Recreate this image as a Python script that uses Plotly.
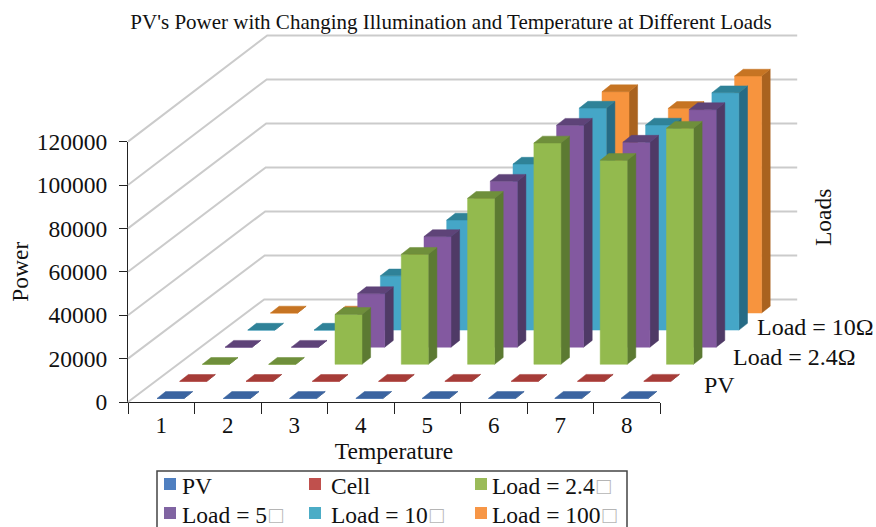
import plotly.graph_objects as go

# ---------- data ----------
temperature = [1, 2, 3, 4, 5, 6, 7, 8]
series_names = ["PV", "Cell", "Load = 2.4", "Load = 5", "Load = 10", "Load = 100"]
pv_power = [40, 50, 60, 70, 80, 90, 100, 110]
cell_power = [30, 40, 50, 60, 70, 80, 90, 100]
load_2_4 = [0, 0, 23000, 50700, 76500, 102000, 94000, 108800]
load_5 = [0, 0, 24700, 51000, 76500, 102300, 94500, 109500]
load_10 = [0, 0, 25000, 50700, 76500, 102300, 94500, 109400]
load_100 = [0, 0, 25000, 51000, 76500, 102000, 94300, 109200]
power_ticks = [0, 20000, 40000, 60000, 80000, 100000, 120000]
depth_labels = ["PV", "Load = 2.4Ω", "Load = 10Ω"]

all_series = [pv_power, cell_power, load_2_4, load_5, load_10, load_100]
front_colors = ["#4f7fc0", "#c0504d", "#93ba4e", "#8359a0", "#45a6c7", "#f7943e"]
side_colors = ["#2f4d78", "#7a302e", "#5c7a32", "#4f3a66", "#266b85", "#a9621f"]
top_colors = ["#3b64a0", "#a63c38", "#6f8f3b", "#5e4378", "#2f8298", "#c67423"]
legend_colors = ["#4f7fc0", "#c0504d", "#9bbb59", "#8064a2", "#4bacc6", "#f79646"]

# ---------- oblique projection (page size and scales) ----------
W, H = 876, 527
AX_L, AX_R, AX_B, AX_T = 128, 660, 402, 141.6
X_PER_PX = 8 / (AX_R - AX_L)
Y_PER_PX = 120000 / (AX_B - AX_T)
STEP_X, STEP_Y = 22.7 * X_PER_PX, 17.1 * Y_PER_PX     # one series further back
CAT_STEP = 66.3 * X_PER_PX
BAR_W = 27 * X_PER_PX
BAR_DX, BAR_DY = 8.6 * X_PER_PX, 6.8 * Y_PER_PX       # depth of a bar
LEFT_PAD = -4.25 * X_PER_PX
BASE_PAD = 3.5 * Y_PER_PX
BACK_SCALE = 1.0138                                   # slight perspective of the back wall
FONT = "Liberation Serif"


def polys(rows):
    xs, ys = [], []
    for pts in rows:
        for (a, b) in pts + [pts[0]]:
            xs.append(a)
            ys.append(b)
        xs.append(None)
        ys.append(None)
    return xs, ys


fig = go.Figure()


def add_face(rows, color):
    xs, ys = polys(rows)
    fig.add_trace(go.Scatter(x=xs, y=ys, xaxis="x2", yaxis="y2", mode="lines", fill="toself",
                             fillcolor=color, line=dict(color=color, width=0.5), hoverinfo="skip",
                             showlegend=False))


# an empty trace keeps the visible axes alive
fig.add_trace(go.Scatter(x=[1], y=[0], mode="none", hoverinfo="skip", showlegend=False))

# gridlines on the walls
gx, gy = [], []
depth_x, depth_y = 6 * STEP_X, 6 * STEP_Y
for v in power_ticks:
    back_x = 0.5 + depth_x + (v / 120000) * 3 * X_PER_PX
    gx += [0.5, back_x, 8.5 + depth_x + 1 * X_PER_PX, None]
    gy += [v, v * BACK_SCALE + depth_y, v * BACK_SCALE + depth_y, None]
fig.add_trace(go.Scatter(x=gx, y=gy, xaxis="x2", yaxis="y2", mode="lines",
                         line=dict(color="#cbcbcb", width=2), hoverinfo="skip", showlegend=False))

# bars, back series first
for s in range(len(all_series) - 1, -1, -1):
    values = all_series[s]
    fronts, sides, tops = [], [], []
    for c, v in zip(temperature, values):
        x0 = 1 + (c - 1) * CAT_STEP + LEFT_PAD + s * STEP_X
        x1 = x0 + BAR_W
        b = BASE_PAD + s * STEP_Y
        t = b + v
        fronts.append([(x0, b), (x1, b), (x1, t), (x0, t)])
        sides.append([(x1, b), (x1 + BAR_DX, b + BAR_DY), (x1 + BAR_DX, t + BAR_DY), (x1, t)])
        tops.append([(x0, t), (x1, t), (x1 + BAR_DX, t + BAR_DY), (x0 + BAR_DX, t + BAR_DY)])
    add_face(sides, side_colors[s])
    add_face(fronts, front_colors[s])
    add_face(tops, top_colors[s])


def px(x):
    return x / W


def py(y):
    return 1 - y / H


annotations = []
shapes = []


def text(x, y, s, anchor="left", angle=0, size=23.5):
    annotations.append(dict(xref="paper", yref="paper", x=px(x), y=py(y), text=s, showarrow=False,
                            xanchor=anchor, yanchor="middle", textangle=angle,
                            font=dict(family=FONT, size=size, color="#111111")))


# depth-axis labels
text(702, 385, depth_labels[0], size=24)
text(731, 357, depth_labels[1], size=24)
text(755, 327, depth_labels[2], size=24)
text(823, 218, "Loads", anchor="center", angle=-90)

# legend
shapes.append(dict(type="rect", xref="paper", yref="paper", x0=px(157), x1=px(627), y0=py(540), y1=py(471),
                   line=dict(color="#444444", width=1.5), fillcolor="white"))
LEG_SWATCH_X = [164, 309, 475]
LEG_TEXT_X = [180, 329, 490]
LEG_ROW_Y = [486, 515]
TOFU = '<span style="color:#b5b5b5">\u200a□</span>'
for i, name in enumerate(series_names):
    col, row = i % 3, i // 3
    sx, sy = LEG_SWATCH_X[col], LEG_ROW_Y[row] - 2
    shapes.append(dict(type="rect", xref="paper", yref="paper", x0=px(sx), x1=px(sx + 12),
                       y0=py(sy + 6), y1=py(sy - 6), line=dict(width=0), fillcolor=legend_colors[i]))
    label = name + (TOFU if name.startswith("Load") else "")
    text(LEG_TEXT_X[col], LEG_ROW_Y[row], label)

fig.update_layout(
    width=W, height=H, autosize=False,
    margin=dict(l=0, r=0, t=0, b=0, pad=0, autoexpand=False),
    paper_bgcolor="white", plot_bgcolor="rgba(0,0,0,0)",
    showlegend=False,
    font=dict(family=FONT, color="#111111"),
    title=dict(text="PV's Power with Changing Illumination and Temperature at Different Loads",
               x=451 / W, xanchor="center", y=py(22), yanchor="middle",
               font=dict(family=FONT, size=21, color="#111111")),
    xaxis=dict(domain=[px(AX_L), px(AX_R)], range=[0.5, 8.5], tickmode="array",
               tickvals=temperature, ticktext=[str(t) for t in temperature],
               ticks="", showgrid=False, zeroline=False, showline=True,
               linecolor="#222222", linewidth=1.3, tickfont=dict(family=FONT, size=23),
               ticklabelstandoff=2,
               minor=dict(tickmode="linear", tick0=0.5, dtick=1, ticks="outside", ticklen=11,
                          tickwidth=1.2, tickcolor="#222222", showgrid=False),
               title=dict(text="Temperature", font=dict(family=FONT, size=23.5), standoff=5)),
    yaxis=dict(domain=[py(AX_B), py(AX_T)], range=[0, 120000], tickmode="array",
               tickvals=power_ticks, ticktext=[str(v) for v in power_ticks],
               ticks="outside", ticklen=8, tickwidth=1.2, tickcolor="#222222",
               showgrid=False, zeroline=False, showline=True, linecolor="#222222", linewidth=1.3,
               tickfont=dict(family=FONT, size=23.5), ticklabelstandoff=7,
               title=dict(text="Power", font=dict(family=FONT, size=23.5), standoff=1)),
    xaxis2=dict(domain=[0, 1], anchor="y2", visible=False,
                range=[0.5 - AX_L * X_PER_PX, 0.5 + (W - AX_L) * X_PER_PX]),
    yaxis2=dict(domain=[0, 1], anchor="x2", visible=False,
                range=[-(H - AX_B) * Y_PER_PX, AX_B * Y_PER_PX]),
    annotations=annotations, shapes=shapes,
)

fig.write_html("out.html", post_script="document.body.style.margin='0';", config={"displayModeBar": False})
